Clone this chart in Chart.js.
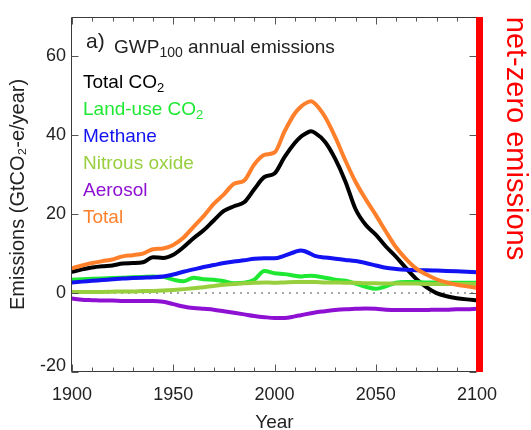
<!DOCTYPE html>
<html>
<head>
<meta charset="utf-8">
<script src="https://cdn.jsdelivr.net/npm/chart.js@4"></script>
<style>html,body{margin:0;padding:0;background:#fff;}</style>
</head>
<body>
<canvas id="c" width="531" height="430"></canvas>
<script>
// GWP100-weighted annual emissions by component, GtCO2-e per year
const years = [1900,1905,1910,1915,1920,1925,1930,1935,1940,1945,1950,1955,1960,1965,1970,1975,1980,1985,1990,1995,
  2000,2005,2010,2013,2015,2018,2020,2025,2030,2035,2040,2045,2050,2055,2060,2065,2070,2075,2080,2085,2090,2095,2100];

const totalCO2 = [5.4,6.0,6.5,6.8,7.0,7.5,7.6,7.8,9.1,8.9,9.7,11.6,13.9,15.9,18.4,20.8,22.0,23.0,26.3,29.4,
  30.3,34.5,38.0,39.6,40.3,41.0,40.6,38.3,34.0,28.3,21.3,17.3,14.8,11.8,9.2,6.3,3.6,1.5,0.0,-0.8,-1.3,-1.6,-1.8];
const landUseCO2 = [3.4,3.5,3.6,3.7,3.8,3.9,4.0,4.1,4.2,4.1,3.4,3.0,3.9,3.5,3.4,3.0,2.5,2.6,3.4,5.6,
  5.0,4.8,4.4,4.2,4.3,4.4,4.3,3.9,3.4,3.1,2.4,1.6,1.1,1.7,2.6,2.8,2.8,2.7,2.7,2.6,2.6,2.6,2.6];
const methane = [2.7,2.9,3.1,3.3,3.5,3.7,3.8,3.9,4.0,4.2,4.7,5.4,6.0,6.6,7.1,7.6,8.0,8.3,8.7,8.8,
  8.8,9.5,10.4,10.8,10.6,9.9,9.4,9.0,8.7,8.4,8.1,7.6,7.0,6.4,6.1,5.9,5.8,5.8,5.7,5.6,5.5,5.4,5.3];
const nitrousOxide = [0.3,0.3,0.3,0.3,0.35,0.4,0.4,0.5,0.55,0.65,0.8,1.0,1.2,1.5,1.8,2.1,2.3,2.5,2.6,2.7,
  2.6,2.7,2.8,2.8,2.8,2.8,2.8,2.7,2.7,2.6,2.6,2.5,2.5,2.4,2.4,2.4,2.4,2.3,2.3,2.3,2.3,2.3,2.3];
const aerosol = [-1.4,-1.7,-1.8,-1.9,-1.9,-2.0,-2.0,-2.0,-2.0,-2.2,-2.8,-3.4,-3.8,-4.0,-4.2,-4.6,-5.0,-5.4,-5.8,-6.1,
  -6.3,-6.3,-5.9,-5.6,-5.4,-5.1,-4.9,-4.6,-4.3,-4.1,-4.0,-3.9,-4.0,-4.2,-4.3,-4.3,-4.3,-4.3,-4.2,-4.2,-4.1,-4.1,-4.0];
const total = [6.3,7.0,7.6,8.1,8.5,9.3,9.6,10.0,11.1,11.3,12.2,14.0,16.8,19.5,22.6,25.0,27.7,28.5,32.6,35.0,
  35.6,41.0,45.5,47.2,48.0,48.6,48.0,44.6,39.5,33.6,28.2,23.8,19.8,15.6,11.6,8.6,6.2,4.7,3.5,2.7,2.1,1.7,1.3];

const seriesNames = ['Total CO₂','Land-use CO₂','Methane','Nitrous oxide','Aerosol','Total'];
const seriesColors = ['#000000','#1ee832','#1212f2','#98cf3e','#8e10d2','#ff7f2a'];
const seriesValues = [totalCO2, landUseCO2, methane, nitrousOxide, aerosol, total];

const xTicks = [1900,1950,2000,2050,2100];
const xMinorStep = 10;
const yTicks = [-20,0,20,40,60];
const yRange = [-20,70];

const panelTag = 'a)';
const panelTitle = 'GWP₁₀₀ annual emissions';
const sideNote = 'net-zero emissions';
const xTitle = 'Year';
const yTitle = 'Emissions (GtCO₂-e/year)';

const FONT = '"Liberation Sans", Arial, Helvetica, sans-serif';
const SUBS = {'₀':'0','₁':'1','₂':'2','₃':'3','₄':'4','₅':'5','₆':'6','₇':'7','₈':'8','₉':'9'};

// Split a label into normal runs and subscript runs
function splitSubs(s) {
  const parts = [];
  for (const ch of s) {
    const sub = ch in SUBS;
    const t = sub ? SUBS[ch] : ch;
    const last = parts[parts.length - 1];
    if (last && last.sub === sub) last.t += t; else parts.push({t, sub});
  }
  return parts;
}

function drawRich(ctx, x, y, text, size, subSize, subDrop, color) {
  let cx = x;
  ctx.fillStyle = color;
  ctx.textBaseline = 'alphabetic';
  ctx.textAlign = 'left';
  for (const p of splitSubs(text)) {
    ctx.font = (p.sub ? subSize : size) + 'px ' + FONT;
    ctx.fillText(p.t, cx, y + (p.sub ? subDrop : 0));
    cx += ctx.measureText(p.t).width;
  }
  return cx;
}

const datasets = seriesValues.map((vals, i) => ({
  label: seriesNames[i],
  data: vals.map((v, k) => ({x: years[k], y: v})),
  borderColor: seriesColors[i],
  backgroundColor: seriesColors[i],
  borderWidth: 4,
  pointRadius: 0,
  cubicInterpolationMode: 'monotone',
  borderCapStyle: 'round',
  borderJoinStyle: 'round',
  order: seriesValues.length - i
}));

// dotted zero reference line, drawn beneath the series
datasets.push({
  label: 'zero',
  data: [{x: years[0], y: 0}, {x: years[years.length - 1], y: 0}],
  borderColor: '#8a8a8a',
  borderWidth: 1.6,
  borderDash: [2, 5],
  pointRadius: 0,
  order: 100
});

const decorations = {
  id: 'decorations',
  afterDatasetsDraw(chart) {
    const {ctx, chartArea: a, scales: {x, y}} = chart;
    ctx.save();
    ctx.strokeStyle = '#3a3a3a';
    ctx.lineWidth = 1;
    const L = Math.round(a.left) - 0.5, R = Math.round(a.right) - 0.5;
    const T = Math.round(a.top) + 0.5, B = Math.round(a.bottom) - 0.5;
    ctx.beginPath();
    ctx.moveTo(L, T); ctx.lineTo(R, T); ctx.lineTo(R, B); ctx.lineTo(L, B); ctx.closePath();
    ctx.stroke();
    // inward ticks
    ctx.strokeStyle = '#555';
    ctx.beginPath();
    for (let yr = xTicks[0]; yr <= xTicks[xTicks.length - 1]; yr += xMinorStep) {
      const px = Math.round(x.getPixelForValue(yr)) + 0.5;
      const len = xTicks.includes(yr) ? 7 : 4;
      ctx.moveTo(px, B); ctx.lineTo(px, B - len);
      ctx.moveTo(px, T); ctx.lineTo(px, T + len);
    }
    for (const v of yTicks) {
      const py = Math.round(y.getPixelForValue(v)) + 0.5;
      ctx.moveTo(L, py); ctx.lineTo(L + 7, py);
      ctx.moveTo(R, py); ctx.lineTo(R - 7, py);
    }
    ctx.stroke();
    ctx.restore();
  },
  afterDraw(chart) {
    const {ctx, chartArea: a} = chart;
    ctx.save();
    // net-zero marker bar along the right edge
    ctx.fillStyle = '#ff0000';
    ctx.fillRect(Math.round(a.right) - 1, Math.round(a.top), 7, Math.round(a.bottom - a.top));
    ctx.translate(a.right + 30, a.top);
    ctx.rotate(Math.PI / 2);
    ctx.font = '29px ' + FONT;
    ctx.textBaseline = 'alphabetic';
    ctx.textAlign = 'left';
    ctx.fillText(sideNote, 0, 0);
    ctx.restore();

    ctx.save();
    // panel title
    ctx.font = '21px ' + FONT;
    ctx.fillStyle = '#222';
    ctx.fillText(panelTag, a.left + 14, a.top + 31);
    drawRich(ctx, a.left + 42, a.top + 36, panelTitle, 19, 14, 4, '#222');
    // coloured series names
    seriesNames.forEach((name, i) => {
      drawRich(ctx, a.left + 11, a.top + 71 + i * 27, name, 19, 13, 4, seriesColors[i]);
    });
    ctx.restore();
  }
};

new Chart(document.getElementById('c'), {
  type: 'line',
  data: {datasets},
  plugins: [decorations],
  options: {
    responsive: false,
    animation: false,
    devicePixelRatio: 1,
    layout: {padding: {left: 0, right: 54, top: 12, bottom: 0}},
    plugins: {legend: {display: false}, tooltip: {enabled: false}},
    scales: {
      x: {
        type: 'linear',
        min: xTicks[0],
        max: xTicks[xTicks.length - 1],
        afterBuildTicks: s => { s.ticks = xTicks.map(v => ({value: v})); },
        afterFit: s => { s.height = 58; },
        grid: {display: false, drawTicks: false},
        border: {display: false},
        ticks: {padding: 12, color: '#222', font: {family: FONT, size: 18}, maxRotation: 0, autoSkip: false,
          callback: v => String(v)},
        title: {display: true, text: xTitle, color: '#222', font: {family: FONT, size: 19},
          padding: {top: 0, bottom: -4}}
      },
      y: {
        type: 'linear',
        min: yRange[0],
        max: yRange[1],
        afterBuildTicks: s => { s.ticks = yTicks.map(v => ({value: v})); },
        afterFit: s => { s.width = 72; },
        grid: {display: false, drawTicks: false},
        border: {display: false},
        ticks: {
          padding: 6, color: '#222',
          font: c => ({family: FONT, size: 18, lineHeight: (c.tick && c.tick.value === yRange[0]) ? 0.7 : 1.2}),
          callback: v => v === yRange[0] ? [String(v), ''] : String(v)
        },
        title: {display: true, text: yTitle, color: '#222', font: {family: FONT, size: 20},
          padding: {top: 6, bottom: 0}}
      }
    }
  }
});
</script>
</body>
</html>
